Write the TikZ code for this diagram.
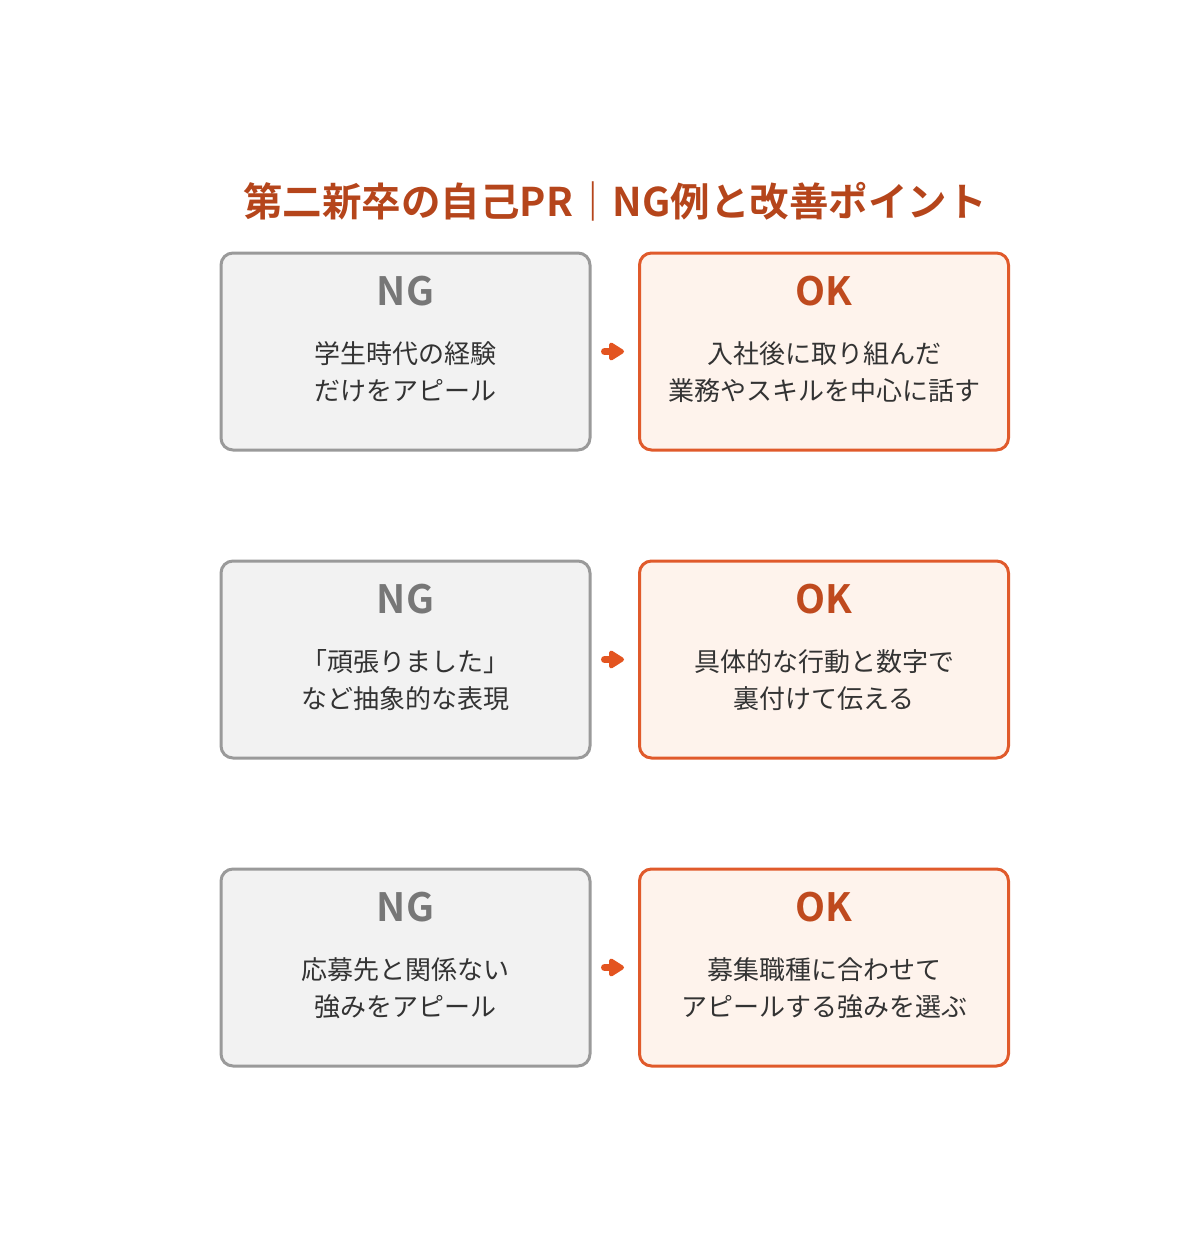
\documentclass[tikz,border=0pt]{standalone}
\usepackage{fontspec}
\setmainfont{Noto Sans CJK JP}[BoldFont={Noto Sans CJK JP Bold}]
\usetikzlibrary{arrows.meta}
\definecolor{titlec}{HTML}{B5451B}
\definecolor{okc}{HTML}{BF4A1E}
\definecolor{okborder}{HTML}{E05A2B}
\definecolor{okfill}{HTML}{FEF3EC}
\definecolor{ngborder}{HTML}{9A9A9A}
\definecolor{ngfill}{HTML}{F2F2F2}
\definecolor{ngc}{HTML}{777777}
\definecolor{bodyc}{HTML}{333333}
\definecolor{arrowc}{HTML}{E35420}
\tikzset{
  ngbox/.style={draw=ngborder, fill=ngfill, line width=3pt, rounded corners=12pt, minimum width=369pt, minimum height=197pt, inner sep=0pt},
  okbox/.style={draw=okborder, fill=okfill, line width=3pt, rounded corners=12pt, minimum width=369pt, minimum height=197pt, inner sep=0pt},
  nglabel/.style={font=\fontsize{39}{40}\selectfont\bfseries, text=ngc, inner sep=0pt},
  oklabel/.style={font=\fontsize{39}{40}\selectfont\bfseries, text=okc, inner sep=0pt},
  bodytext/.style={font=\fontsize{26}{37}\selectfont, text=bodyc, align=center, inner sep=0pt},
  titletext/.style={font=\fontsize{39.5}{44}\selectfont\bfseries, text=titlec, inner sep=0pt},
  flowarrow/.style={draw=arrowc, line width=7pt, line cap=round, -{Triangle[length=17pt,width=20pt,round]}, shorten <=13pt, shorten >=14pt}
}
\begin{document}
\begin{tikzpicture}[x=1pt,y=-1pt]
\useasboundingbox (0,0) rectangle (1200,1260);
\node[titletext] (title) at (615,201) {第二新卒の自己PR｜NG例と改善ポイント};
% row 1
\node[ngbox] (ng1) at (405.5,351.5) {};
\node[okbox] (ok1) at (824,351.5) {};
\node[nglabel] (ngl1) at (405.5,291) {NG};
\node[oklabel] (okl1) at (824,291) {OK};
\node[bodytext] (ngt1) at (405.5,372) {学生時代の経験\\だけをアピール};
\node[bodytext] (okt1) at (824,372) {入社後に取り組んだ\\業務やスキルを中心に話す};
\draw[flowarrow] (ng1) -- (ok1);
% row 2
\node[ngbox] (ng2) at (405.5,659.5) {};
\node[okbox] (ok2) at (824,659.5) {};
\node[nglabel] (ngl2) at (405.5,599) {NG};
\node[oklabel] (okl2) at (824,599) {OK};
\node[bodytext] (ngt2) at (405.5,680) {「頑張りました」\\など抽象的な表現};
\node[bodytext] (okt2) at (824,680) {具体的な行動と数字で\\裏付けて伝える};
\draw[flowarrow] (ng2) -- (ok2);
% row 3
\node[ngbox] (ng3) at (405.5,967.5) {};
\node[okbox] (ok3) at (824,967.5) {};
\node[nglabel] (ngl3) at (405.5,907) {NG};
\node[oklabel] (okl3) at (824,907) {OK};
\node[bodytext] (ngt3) at (405.5,988) {応募先と関係ない\\強みをアピール};
\node[bodytext] (okt3) at (824,988) {募集職種に合わせて\\アピールする強みを選ぶ};
\draw[flowarrow] (ng3) -- (ok3);
\end{tikzpicture}
\end{document}
